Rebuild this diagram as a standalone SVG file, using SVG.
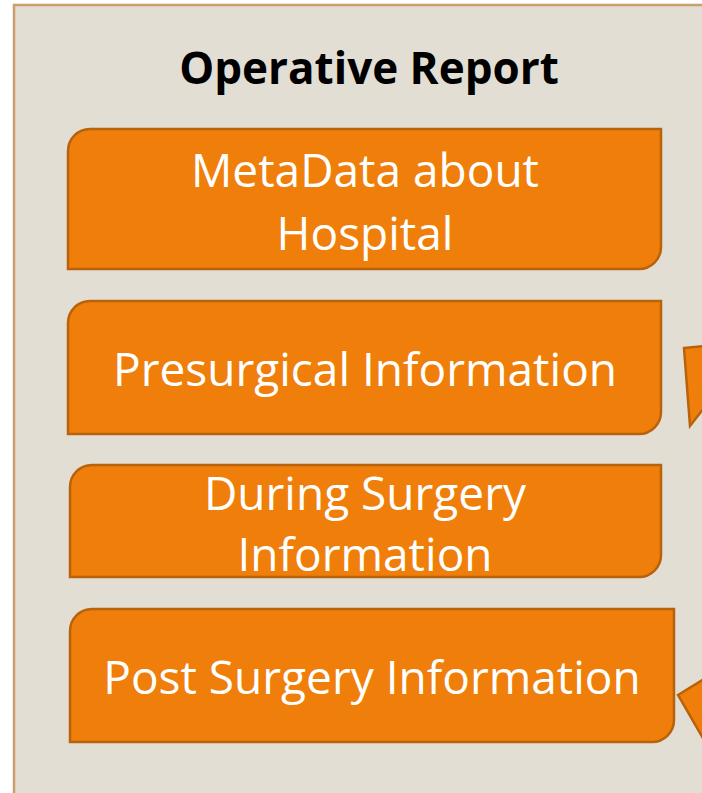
<svg xmlns="http://www.w3.org/2000/svg" width="702" height="793" viewBox="0 0 702 793">
<style>
.box{fill:#ef7f0a;stroke:#b8620c;stroke-width:2.5}
.t{font-family:"Open Sans","Liberation Sans",sans-serif;font-size:46px;fill:#ffffff;text-anchor:middle}
.title{font-family:"Open Sans","Liberation Sans",sans-serif;font-size:44px;font-weight:bold;fill:#000;text-anchor:middle}
</style>
<rect x="14" y="5" width="700" height="800" fill="#e3ded4" stroke="#c9a06c" stroke-width="2.5"/>
<text class="title" x="369" y="84">Operative Report</text>
<g id="n1">
<path class="box" d="M90 129 H661 V247 A22 22 0 0 1 639 269 H68 V151 A22 22 0 0 1 90 129 Z"/>
<text class="t" x="365" y="187">MetaData about</text>
<text class="t" x="365" y="250">Hospital</text>
</g>
<g id="n2">
<path class="box" d="M90 301 H661 V412 A22 22 0 0 1 639 434 H68 V323 A22 22 0 0 1 90 301 Z"/>
<text class="t" x="365" y="386">Presurgical Information</text>
</g>
<g id="n3">
<path class="box" d="M92 465 H661 V555 A22 22 0 0 1 639 577 H70 V487 A22 22 0 0 1 92 465 Z"/>
<text class="t" x="365" y="510">During Surgery</text>
<text class="t" x="365" y="571">Information</text>
</g>
<g id="n4">
<path class="box" d="M92 609 H674 V720 A22 22 0 0 1 652 742 H70 V631 A22 22 0 0 1 92 609 Z"/>
<text class="t" x="372" y="694">Post Surgery Information</text>
</g>
<g id="connectors">
<polygon class="box" points="684,348 704,346 704,408 690,426"/>
<polygon class="box" points="678,695 704,679 704,740"/>
</g>
</svg>
